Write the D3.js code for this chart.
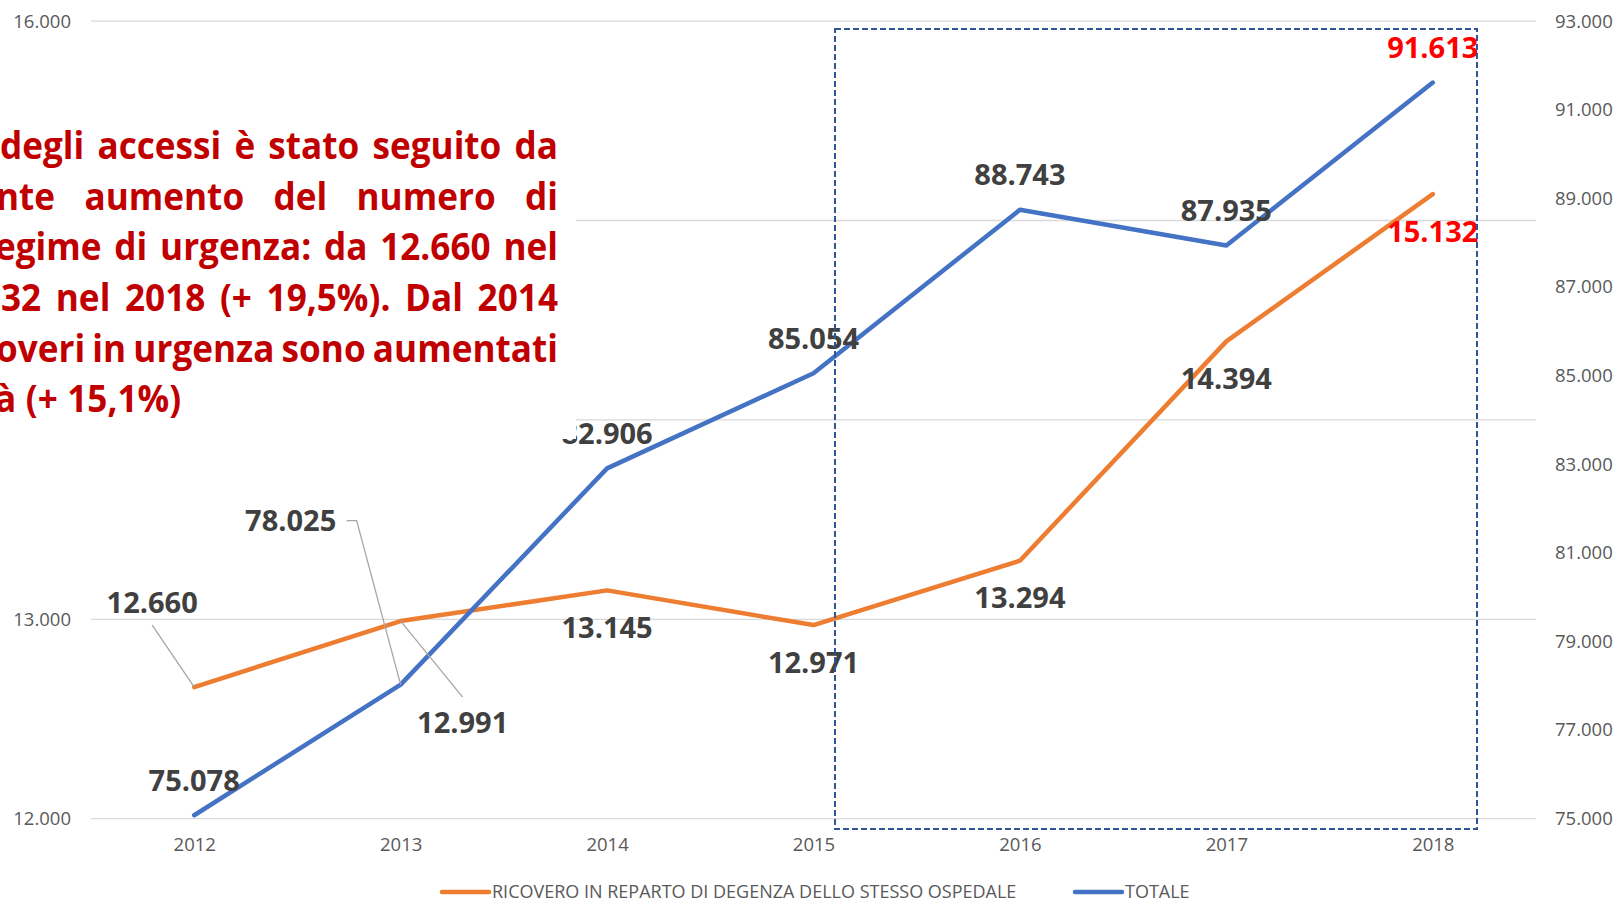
<!DOCTYPE html>
<html>
<head>
<meta charset="utf-8">
<script src="https://cdn.jsdelivr.net/npm/d3@7"></script>
<style>
    html, body { margin: 0; padding: 0; background: #fff; overflow: hidden; }
    svg { display: block; font-family: "Open Sans", sans-serif; }
</style>
</head>
<body>
<svg id="chart" width="1620" height="902"></svg>
<script>
const years = ["2012", "2013", "2014", "2015", "2016", "2017", "2018"];
const ricovero = [12660, 12991, 13145, 12971, 13294, 14394, 15132];
const totale = [75078, 78025, 82906, 85054, 88743, 87935, 91613];
const leftTicks = [12000, 13000, 14000, 15000, 16000];
const rightTicks = [75000, 77000, 79000, 81000, 83000, 85000, 87000, 89000, 91000, 93000];
const seriesNames = ["RICOVERO IN REPARTO DI DEGENZA DELLO STESSO OSPEDALE", "TOTALE"];
const noteLines = [
    "degli accessi è stato seguito da",
    "nte aumento del numero di",
    "egime di urgenza: da 12.660 nel",
    "32 nel 2018 (+ 19,5%). Dal 2014",
    "overi in urgenza sono aumentati",
    "à (+ 15,1%)"
];

const orange = "#ED7D31", blue = "#4472C4";
const it = d3.formatLocale({ decimal: ",", thousands: ".", grouping: [3], currency: ["€", ""] });
const fmt = it.format(",");

const svg = d3.select("#chart");

const x = d3.scalePoint().domain(years).range([91, 1536]).padding(0.5);
const yL = d3.scaleLinear().domain([12000, 16000]).range([818.7, 21.1]);
const yR = d3.scaleLinear().domain([75000, 93000]).range([818.7, 21.1]);

// gridlines (primary axis)
svg.append("g").selectAll("line")
    .data(leftTicks)
    .enter()
    .append("line")
    .attr("x1", 91).attr("x2", 1536)
    .attr("y1", d => yL(d)).attr("y2", d => yL(d))
    .style("stroke", "#D9D9D9")
    .style("stroke-width", "1.3px");

// left axis
const axL = svg.append("g")
    .attr("transform", "translate(71,0)")
    .call(d3.axisLeft(yL).tickValues(leftTicks).tickFormat(fmt).tickSize(0).tickPadding(0));
axL.select(".domain").remove();
axL.selectAll("text").style("font-size", "18.5px").style("fill", "#595959").style("font-family", "Open Sans");

// right axis
const axR = svg.append("g")
    .attr("transform", "translate(1555,0)")
    .call(d3.axisRight(yR).tickValues(rightTicks).tickFormat(fmt).tickSize(0).tickPadding(0));
axR.select(".domain").remove();
axR.selectAll("text").style("font-size", "18.5px").style("fill", "#595959").style("font-family", "Open Sans");

// x axis
const axX = svg.append("g")
    .attr("transform", "translate(0,838)")
    .call(d3.axisBottom(x).tickSize(0).tickPadding(0));
axX.select(".domain").remove();
axX.selectAll("text").style("font-size", "18.5px").style("fill", "#595959").style("font-family", "Open Sans")
    .attr("dy", "0.71em");

// series lines
const lineL = d3.line().x((d, i) => x(years[i])).y(d => yL(d));
const lineR = d3.line().x((d, i) => x(years[i])).y(d => yR(d));

svg.append("path")
    .datum(ricovero)
    .attr("d", lineL)
    .style("fill", "none")
    .style("stroke", orange)
    .style("stroke-width", "4.5px")
    .style("stroke-linecap", "round")
    .style("stroke-linejoin", "round");

svg.append("path")
    .datum(totale)
    .attr("d", lineR)
    .style("fill", "none")
    .style("stroke", blue)
    .style("stroke-width", "4.5px")
    .style("stroke-linecap", "round")
    .style("stroke-linejoin", "round");

// data labels: default below (orange) / above (blue), a few moved with leader lines
const callouts = {
    "r0": { dx: -42, dy: -85, leader: [[0, 23]] },
    "r1": { dx: 62, dy: 101, leader: [[0, -25]] },
    "t1": { dx: -110, dy: -164, leader: [[56, 0], [66, 0]] }
};

function addLabels(values, scale, key, defaultDy) {
    values.forEach((v, i) => {
        const px = x(years[i]), py = scale(v);
        const c = callouts[key + i];
        const lx = px + (c ? c.dx : 0);
        const ly = py + (c ? c.dy : defaultDy);

        if (c) {
            const pts = c.leader.map(p => [lx + p[0], ly + p[1]]);
            pts.push([px, py]);
            svg.append("path")
                .attr("d", d3.line()(pts))
                .style("fill", "none")
                .style("stroke", "#A6A6A6")
                .style("stroke-width", "1.3px");
        }

        svg.append("text")
            .attr("x", lx)
            .attr("y", ly)
            .attr("dy", "0.36em")
            .attr("text-anchor", "middle")
            .style("font-size", "29px")
            .style("font-weight", "bold")
            .style("fill", i === values.length - 1 ? "#FF0000" : "#404040")
            .text(fmt(v));
    });
}

addLabels(ricovero, yL, "r", 37);
addLabels(totale, yR, "t", -35);

// highlight box 2015-2018
svg.append("rect")
    .attr("x", 835).attr("y", 29)
    .attr("width", 642).attr("height", 800)
    .style("fill", "none")
    .style("stroke", "#2F5597")
    .style("stroke-width", "2px")
    .style("stroke-dasharray", "6,3");

// text box (white, covers part of the plot)
svg.append("rect")
    .attr("x", -10).attr("y", 100)
    .attr("width", 586).attr("height", 339)
    .style("fill", "#fff");

// note text, narrowed a little horizontally to get closer to the original face
const squeeze = 0.95;
const note = svg.append("g")
    .attr("transform", `scale(${squeeze},1)`)
    .style("font-size", "37px")
    .style("font-weight", "bold")
    .style("fill", "#C00000");

const starts = [0, -4, -5, 1, -4, -5];
const right = 558;

noteLines.forEach((line, i) => {
    const baseY = 159 + i * 50.7;
    const words = line.split(" ");
    const t = note.append("text").attr("y", baseY);
    const tspans = words.map(w => t.append("tspan").text(w));
    const widths = tspans.map(s => s.node().getComputedTextLength());
    const total = d3.sum(widths);
    const justify = i < noteLines.length - 1;
    const gap = justify ? ((right - starts[i]) / squeeze - total) / (words.length - 1) : 10;
    let cx = starts[i] / squeeze;
    tspans.forEach((s, j) => {
        s.attr("x", cx);
        cx += widths[j] + gap;
    });
});

// legend
const legendItems = [
    { name: seriesNames[0], color: orange, x: 442 },
    { name: seriesNames[1], color: blue, x: 1075 }
];
legendItems.forEach(item => {
    svg.append("line")
        .attr("x1", item.x).attr("x2", item.x + 47)
        .attr("y1", 892).attr("y2", 892)
        .style("stroke", item.color)
        .style("stroke-width", "4.5px")
        .style("stroke-linecap", "round");
    svg.append("text")
        .attr("x", item.x + 50)
        .attr("y", 892)
        .attr("dy", "0.36em")
        .style("font-size", "18px")
        .style("fill", "#595959")
        .text(item.name);
});
</script>
</body>
</html>
